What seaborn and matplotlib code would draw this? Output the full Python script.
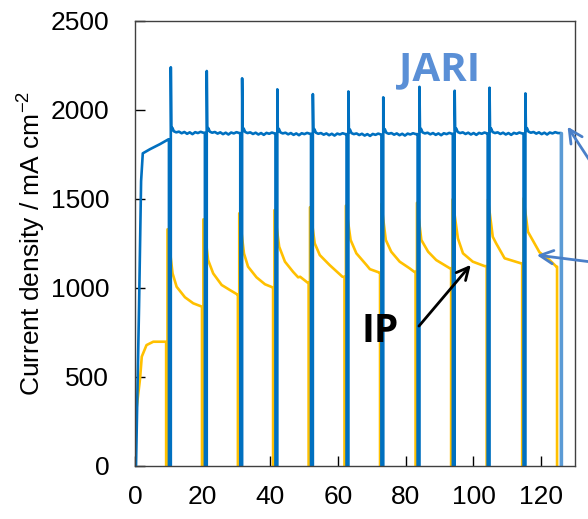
import matplotlib
matplotlib.use("Agg")
import matplotlib.pyplot as plt
import pandas as pd
import seaborn as sns

# ---- JARI load cycle (blue) ----
jari_start_t = [0.3, 1.2, 1.8, 2.3, 4.4, 7.4, 9.9]
jari_start_v = [0, 900, 1600, 1756, 1779, 1808, 1835]
jari_switch = [10.33, 20.95, 31.4, 41.8, 52.3, 62.8, 73.1, 83.8, 94.2, 104.5, 115.1]
jari_spike = [2240, 2219, 2178, 2116, 2089, 2104, 2071, 2130, 2108, 2125, 2093]
jari_level = [1872, 1870, 1868, 1866, 1864, 1862, 1864, 1866, 1868, 1868, 1870]
jari_ripple_t = [0.15, 0.45, 0.9, 1.6, 2.4, 3.2, 4.0, 4.8, 5.6, 6.4, 7.2, 8.0, 8.8, 9.6]
jari_ripple_v = [12, 28, 8, 2, 6, -3, 4, -6, 2, -8, 3, -2, 5, 0]
jari_end = 125.9

# ---- IP load cycle (yellow) ----
ip_start_t = [0.0, 0.2, 1.5, 2.0, 3.4, 5.4, 9.1]
ip_start_v = [230, 280, 491, 613, 678, 697, 697]
ip_switch = [9.4, 20.0, 30.6, 41.0, 51.5, 62.1, 72.6, 83.1, 93.6, 104.1, 114.6]
ip_peak = [1329, 1385, 1419, 1437, 1453, 1462, 1471, 1478, 1497, 1497, 1503]
ip_decay_t = [
    [11.1, 12.3, 14.75, 17.2, 19.8],
    [21.6, 23.1, 25.6, 28.0, 30.2],
    [32.2, 33.4, 35.9, 38.4, 40.6],
    [42.6, 44.3, 46.7, 48.2, 48.8, 51.0],
    [53.1, 54.6, 57.5, 61.3],
    [63.7, 65.4, 68.4, 69.4, 72.3],
    [74.1, 75.7, 78.2, 81.1, 82.5],
    [84.6, 86.6, 89.0, 93.0],
    [95.4, 96.9, 99.8, 103.3],
    [105.7, 106.7, 109.2, 111.6, 114.0],
    [116.1, 119.5, 122.5, 124.5],
]
ip_decay_v = [
    [1081, 1006, 947, 913, 894],
    [1156, 1081, 1016, 988, 963],
    [1193, 1119, 1059, 1020, 1003],
    [1231, 1147, 1090, 1059, 1062, 1029],
    [1250, 1184, 1128, 1062],
    [1269, 1194, 1128, 1105, 1085],
    [1269, 1203, 1147, 1110, 1090],
    [1269, 1203, 1156, 1110],
    [1278, 1194, 1147, 1122],
    [1287, 1250, 1166, 1152, 1138],
    [1315, 1200, 1156, 1119],
]
ip_end = 124.7

BLUE = "#0070C0"
BLUE_LIGHT = "#5B9BD5"
YELLOW = "#FFC000"
ARROW_BLUE = "#4A7FC8"

# Blue trace: stop (drop to 0), restart with an overshoot spike, then plateau
bt, bv = list(jari_start_t), list(jari_start_v)
for i, ts in enumerate(jari_switch):
    nxt = jari_switch[i + 1] if i + 1 < len(jari_switch) else jari_end
    bt += [ts - 0.3, ts - 0.3, ts + 0.25, ts + 0.25]
    bv += [bv[-1], 0, 0, jari_spike[i]]
    for rt, rv in zip(jari_ripple_t, jari_ripple_v):
        if ts + 0.25 + rt < nxt - 0.4:
            bt.append(ts + 0.25 + rt)
            bv.append(jari_level[i] + rv)
bt += [jari_end, jari_end]
bv += [bv[-1], 0]

# Yellow trace
yt, yv = list(ip_start_t), list(ip_start_v)
for i, ts in enumerate(ip_switch):
    yt += [ts - 0.2, ts - 0.2, ts + 0.2, ts + 0.2]
    yv += [yv[-1], 0, 0, ip_peak[i]]
    yt += ip_decay_t[i]
    yv += ip_decay_v[i]
yt += [ip_end, ip_end]
yv += [yv[-1], 0]

df_jari = pd.DataFrame({"time": bt, "current": bv})
df_ip = pd.DataFrame({"time": yt, "current": yv})
df_tail = df_jari.tail(2)

sns.set_style("ticks")
plt.rcParams["font.family"] = ["Liberation Sans", "DejaVu Sans"]
plt.rcParams.update({"text.color": "black", "axes.labelcolor": "black",
                     "xtick.color": "black", "ytick.color": "black"})

fig = plt.figure(figsize=(5.88, 5.19), dpi=100)
ax = fig.add_axes([135 / 588, 1 - 465.7 / 519, 440 / 588, (465.7 - 21) / 519])

sns.lineplot(data=df_ip, x="time", y="current", sort=False, estimator=None,
             color=YELLOW, lw=1.9, ax=ax)
sns.lineplot(data=df_jari, x="time", y="current", sort=False, estimator=None,
             color=BLUE, lw=1.9, ax=ax)
sns.lineplot(data=df_tail, x="time", y="current", sort=False, estimator=None,
             color=BLUE_LIGHT, lw=2.4, ax=ax)

ax.set_xlim(0, 130)
ax.set_ylim(0, 2500)
ax.set_xticks(range(0, 121, 20))
ax.set_yticks(range(0, 2501, 500))
ax.tick_params(axis="x", direction="in", length=7, width=1, labelsize=19, pad=14)
ax.tick_params(axis="y", direction="in", length=7, width=1, labelsize=19, pad=18.5)
ax.set_xlabel("")
ax.set_ylabel("Current density / mA cm$^{\\mathregular{-2}}$", fontsize=19)
ax.yaxis.set_label_coords(-0.2, 0.5)
for side, sp in ax.spines.items():
    sp.set_color("#404040")
    sp.set_linewidth(1.0)

ax.text(90, 2224, "JARI", color="#5A8FD6", fontsize=29, fontweight="bold",
        family=["Open Sans", "DejaVu Sans"], ha="center", va="center")
ax.text(72.3, 757, "IP", color="black", fontsize=28, fontweight="bold",
        family=["Open Sans", "DejaVu Sans"], ha="center", va="center")

ax.annotate("", xy=(99.2, 1129), xytext=(83.9, 785),
            arrowprops=dict(arrowstyle="->", lw=2, color="black",
                            mutation_scale=22, shrinkA=0, shrinkB=0))
ax.annotate("", xy=(127.8, 1906), xytext=(137.5, 1624), annotation_clip=False,
            arrowprops=dict(arrowstyle="->", lw=2, color=ARROW_BLUE,
                            mutation_scale=24, shrinkA=0, shrinkB=0))
ax.annotate("", xy=(118.7, 1184), xytext=(137.5, 1139), annotation_clip=False,
            arrowprops=dict(arrowstyle="->", lw=2, color=ARROW_BLUE,
                            mutation_scale=24, shrinkA=0, shrinkB=0))

fig.savefig("out.png", dpi=100)
